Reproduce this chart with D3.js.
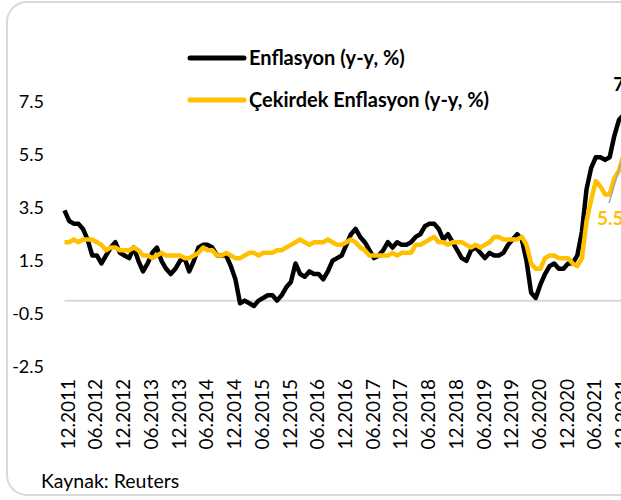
<!DOCTYPE html>
<html>
<head>
<meta charset="utf-8">
<script src="https://cdn.jsdelivr.net/npm/d3@7"></script>
<style>
  body { margin: 0; background: #fff; }
  text { font-family: Lato, "Noto Sans", sans-serif; }
</style>
</head>
<body>
<script>
// monthly, starting 11.2011
var startMonth = "11.2011"
var enflasyon = [3.4, 3.0,
  2.9, 2.9, 2.7, 2.3, 1.7, 1.7, 1.4, 1.7, 2.0, 2.2, 1.8, 1.7,
  1.6, 2.0, 1.5, 1.1, 1.4, 1.8, 2.0, 1.5, 1.2, 1.0, 1.2, 1.5,
  1.6, 1.1, 1.5, 2.0, 2.1, 2.1, 2.0, 1.7, 1.7, 1.7, 1.3, 0.8,
  -0.1, 0.0, -0.1, -0.2, 0.0, 0.1, 0.2, 0.2, 0.0, 0.2, 0.5, 0.7,
  1.4, 1.0, 0.9, 1.1, 1.0, 1.0, 0.8, 1.1, 1.5, 1.6, 1.7, 2.1,
  2.5, 2.7, 2.4, 2.2, 1.9, 1.6, 1.7, 1.9, 2.2, 2.0, 2.2, 2.1,
  2.1, 2.2, 2.4, 2.5, 2.8, 2.9, 2.9, 2.7, 2.3, 2.5, 2.2, 1.9,
  1.6, 1.5, 1.9, 2.0, 1.8, 1.6, 1.8, 1.7, 1.7, 1.8, 2.1, 2.3,
  2.5, 2.3, 1.5, 0.3, 0.1, 0.6, 1.0, 1.3, 1.4, 1.2, 1.2, 1.4,
  1.4, 1.7, 2.6, 4.2, 5.0, 5.4, 5.4, 5.3, 5.4, 6.2, 6.8, 7.0]
var cekirdek = [2.2, 2.2,
  2.3, 2.2, 2.3, 2.3, 2.3, 2.2, 2.1, 1.9, 2.0, 2.0, 1.9, 1.9,
  1.9, 2.0, 1.9, 1.7, 1.7, 1.6, 1.7, 1.8, 1.7, 1.7, 1.7, 1.7,
  1.6, 1.6, 1.7, 1.8, 2.0, 1.9, 1.9, 1.7, 1.7, 1.8, 1.7, 1.6,
  1.6, 1.7, 1.8, 1.8, 1.7, 1.8, 1.8, 1.8, 1.9, 1.9, 2.0, 2.1,
  2.2, 2.3, 2.2, 2.1, 2.2, 2.2, 2.2, 2.3, 2.2, 2.1, 2.1, 2.2,
  2.3, 2.2, 2.0, 1.9, 1.7, 1.7, 1.7, 1.7, 1.7, 1.8, 1.7, 1.8,
  1.8, 1.8, 2.1, 2.1, 2.2, 2.3, 2.4, 2.2, 2.2, 2.1, 2.2, 2.2,
  2.2, 2.1, 2.0, 2.1, 2.0, 2.1, 2.2, 2.4, 2.4, 2.3, 2.3, 2.3,
  2.3, 2.4, 2.1, 1.4, 1.2, 1.2, 1.6, 1.7, 1.7, 1.6, 1.6, 1.6,
  1.4, 1.3, 1.6, 3.0, 3.8, 4.5, 4.3, 4.0, 4.0, 4.6, 4.9, 5.5]
var xLabels = ["12.2011", "06.2012", "12.2012", "06.2013", "12.2013", "06.2014",
  "12.2014", "06.2015", "12.2015", "06.2016", "12.2016", "06.2017", "12.2017",
  "06.2018", "12.2018", "06.2019", "12.2019", "06.2020", "12.2020", "06.2021", "12.2021"]
var yTicks = [-2.5, -0.5, 1.5, 3.5, 5.5, 7.5]
var seriesNames = ["Enflasyon (y-y, %)", "Çekirdek Enflasyon (y-y, %)"]
var seriesColors = ["#000000", "#FFC000"]

var fmt = d3.formatLocale({decimal: ".", thousands: ",", grouping: [3], currency: ["", ""], minus: "-"}).format(".1f")

function monthIndex(s) {
  var p = s.split("."), q = startMonth.split(".")
  return (+p[1] - +q[1]) * 12 + (+p[0] - +q[0])
}

var svg = d3.select("body").append("svg")
    .attr("width", 621)
    .attr("height", 500)

svg.append("rect")
    .attr("x", 7).attr("y", 2)
    .attr("width", 660).attr("height", 493)
    .attr("rx", 20)
    .attr("fill", "white")
    .attr("stroke", "#d9d9d9")
    .attr("stroke-width", 2)

var n = enflasyon.length
var x = d3.scaleLinear().domain([0, n - 1]).range([64.5, 64.5 + (n - 1) * 4.62])
var y = d3.scaleLinear().domain([-2.5, 7.5]).range([367, 101.5])

// zero line
svg.append("line")
    .attr("x1", x(0)).attr("x2", 640)
    .attr("y1", y(0)).attr("y2", y(0))
    .attr("stroke", "#d9d9d9")
    .attr("stroke-width", 2)

var yAxis = d3.axisLeft(y).tickValues(yTicks).tickSize(0).tickPadding(0)
    .tickFormat(fmt)
svg.append("g")
    .attr("class", "y-axis")
    .attr("transform", "translate(44,0)")
    .call(yAxis)
    .call(g => g.select(".domain").remove())
    .selectAll("text")
    .attr("font-size", 18)
    .attr("fill", "#000")

var xAxis = d3.axisBottom(x)
    .tickValues(xLabels.map(monthIndex))
    .tickFormat((d, i) => xLabels[i])
    .tickSize(0)
svg.append("g")
    .attr("class", "x-axis")
    .attr("transform", "translate(-1.5," + y(-2.5) + ")")
    .call(xAxis)
    .call(g => g.select(".domain").remove())
    .selectAll("text")
    .attr("transform", "rotate(-90)")
    .attr("text-anchor", "end")
    .attr("x", -12)
    .attr("y", 0)
    .attr("dy", "0.35em")
    .attr("font-size", 19)
    .attr("fill", "#000")

var line = d3.line().x((d, i) => x(i)).y(d => y(d))

;[enflasyon, cekirdek].forEach(function(s, k) {
  svg.append("path")
      .datum(s)
      .attr("d", line)
      .attr("fill", "none")
      .attr("stroke", seriesColors[k])
      .attr("stroke-width", 4.5)
      .attr("stroke-linejoin", "round")
})

// data labels for the last points
var last = n - 1
svg.append("text")
    .attr("x", x(last) + 3)
    .attr("y", 84)
    .attr("dy", "0.35em")
    .attr("text-anchor", "middle")
    .attr("font-size", 19)
    .attr("font-weight", "bold")
    .text(fmt(enflasyon[last]))

svg.append("line")
    .attr("x1", 609).attr("y1", 203)
    .attr("x2", x(last)).attr("y2", y(cekirdek[last]))
    .attr("stroke", "#a6a6a6")
    .attr("stroke-width", 1.5)
svg.append("text")
    .attr("x", 597)
    .attr("y", 218)
    .attr("dy", "0.35em")
    .attr("font-size", 19)
    .attr("font-weight", "bold")
    .attr("fill", seriesColors[1])
    .text(fmt(cekirdek[last]))

// legend
var legend = svg.append("g").attr("class", "legend")
seriesNames.forEach(function(name, k) {
  var ly = 58 + k * 42
  legend.append("line")
      .attr("x1", 190).attr("x2", 244)
      .attr("y1", ly).attr("y2", ly)
      .attr("stroke", seriesColors[k])
      .attr("stroke-width", 5)
      .attr("stroke-linecap", "round")
  legend.append("text")
      .attr("x", 249).attr("y", ly)
      .attr("dy", "0.35em")
      .attr("font-size", 20)
      .attr("font-weight", "bold")
      .text(name)
})

svg.append("text")
    .attr("x", 41).attr("y", 488)
    .attr("font-size", 19.5)
    .text("Kaynak: Reuters")
</script>
</body>
</html>
